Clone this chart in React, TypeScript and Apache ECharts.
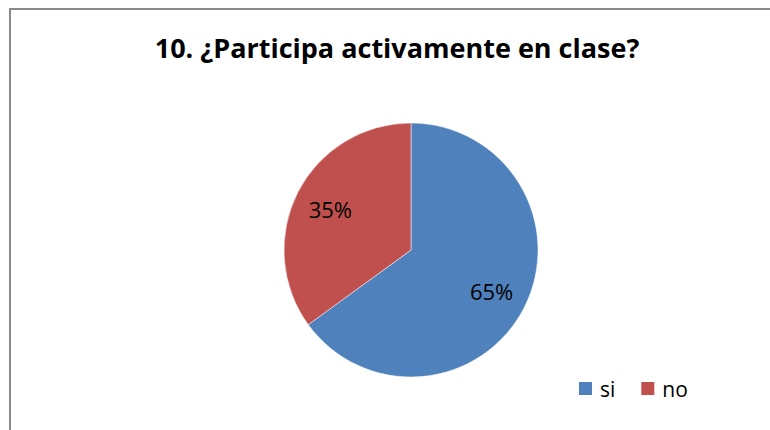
import React, { useEffect, useRef } from "react";
import * as echarts from "echarts";

const title = "10. ¿Participa activamente en clase?";
const categories = ["si", "no"];
const values = [65, 35];
const colors = ["#4F81BD", "#C0504D"];

export default function App() {
  const ref = useRef<HTMLDivElement>(null);
  useEffect(() => {
    document.body.style.margin = "0";
    const chart = echarts.init(ref.current!, null, { renderer: "svg" });
    const data = categories.map((name, i) => ({
      name,
      value: values[i],
      itemStyle: { color: colors[i] },
    }));
    chart.setOption({
      animation: false,
      backgroundColor: "#ffffff",
      title: {
        text: title,
        left: 397,
        textAlign: "center",
        top: 34,
        padding: 0,
        textStyle: {
          fontFamily: "Open Sans",
          fontWeight: "bold",
          fontSize: 27,
          color: "#000000",
        },
      },
      legend: {
        data: categories,
        left: 577,
        top: 378,
        padding: 0,
        itemWidth: 15,
        itemHeight: 15,
        itemGap: 24,
        icon: "rect",
        textStyle: { fontFamily: "Open Sans", fontSize: 21, color: "#000", padding: [0, 0, 0, 2] },
      },
      graphic: [
        {
          type: "rect",
          shape: { x: 10, y: 9, width: 800, height: 500 },
          style: { fill: "none", stroke: "#8a8a8a", lineWidth: 2 },
          silent: true,
        },
      ],
      series: [
        {
          type: "pie",
          center: [411, 250],
          radius: [0, 127],
          startAngle: 90,
          clockwise: true,
          label: { show: false },
          labelLine: { show: false },
          itemStyle: { borderColor: "#ffffff", borderWidth: 0.5 },
          emphasis: { disabled: true },
          data,
        },
        {
          type: "pie",
          center: [411, 250],
          radius: [48, 127],
          startAngle: 90,
          clockwise: true,
          silent: true,
          itemStyle: { color: "transparent" },
          label: {
            show: true,
            position: "inside",
            formatter: "{c}%",
            fontFamily: "Open Sans",
            fontSize: 22,
            color: "#000",
          },
          labelLine: { show: false },
          emphasis: { disabled: true },
          data: categories.map((name, i) => ({ name, value: values[i], itemStyle: { color: "transparent" } })),
        },
      ],
    });
    return () => chart.dispose();
  }, []);
  return <div ref={ref} style={{ width: 770, height: 430 }} />;
}
